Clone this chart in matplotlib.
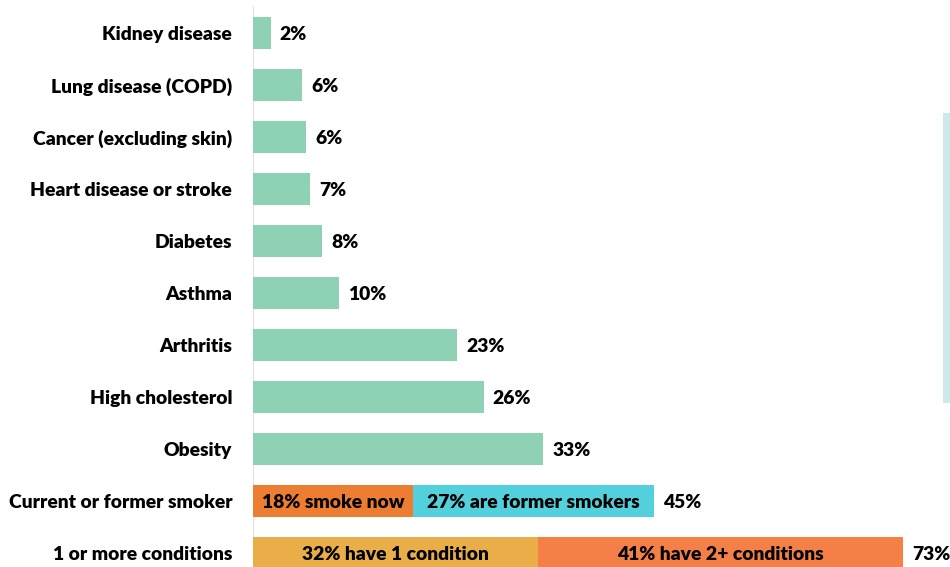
import matplotlib
matplotlib.use("Agg")
import matplotlib.pyplot as plt
from matplotlib.patches import Rectangle

plt.rcParams['font.family'] = ['Lato', 'DejaVu Sans']

categories = ["Kidney disease", "Lung disease (COPD)", "Cancer (excluding skin)",
              "Heart disease or stroke", "Diabetes", "Asthma", "Arthritis",
              "High cholesterol", "Obesity"]
values = [2.0, 5.5, 5.95, 6.45, 7.75, 9.7, 22.9, 25.9, 32.6]
value_labels = ["2%", "6%", "6%", "7%", "8%", "10%", "23%", "26%", "33%"]

smoker_label = "Current or former smoker"
smoker_parts = [18, 27]
smoker_texts = ["18% smoke now", "27% are former smokers"]
smoker_total = "45%"

cond_label = "1 or more conditions"
cond_parts = [32, 41]
cond_texts = ["32% have 1 condition", "41% have 2+ conditions"]
cond_total = "73%"

green = "#8fd1b4"
smoker_colors = ["#ed7d31", "#52d0dc"]
cond_colors = ["#e9ae48", "#f47f47"]

FS = 13.9
FW = "heavy"

W, H = 950, 567
fig = plt.figure(figsize=(W / 100, H / 100), dpi=100)
x0 = 253
ax = fig.add_axes([x0 / W, 0, 1 - x0 / W, 1])
px_per = 8.91
ax.set_xlim(0, (W - x0) / px_per)
y_top, step = 33, 52
ax.set_ylim((H - y_top) / step, (0 - y_top) / step)

bh = 0.62
off = (6.5, -1.2)
ys = list(range(len(categories)))
ax.barh(ys, values, height=bh, color=green)
for y, v, t in zip(ys, values, value_labels):
    ax.annotate(t, (v, y), xytext=off, textcoords="offset points",
                va="center", ha="left", fontsize=FS, fontweight=FW)

ys_s = len(categories)
left = 0
for v, c, t in zip(smoker_parts, smoker_colors, smoker_texts):
    ax.barh(ys_s, v, left=left, height=bh, color=c)
    ax.annotate(t, (left + v / 2, ys_s), xytext=(0, -1.2), textcoords="offset points",
                ha="center", va="center", fontsize=FS, fontweight=FW)
    left += v
ax.annotate(smoker_total, (left, ys_s), xytext=off, textcoords="offset points",
            va="center", ha="left", fontsize=FS, fontweight=FW)

ys_c = len(categories) + 1
left = 0
for v, c, t in zip(cond_parts, cond_colors, cond_texts):
    ax.barh(ys_c, v, left=left, height=bh, color=c)
    ax.annotate(t, (left + v / 2, ys_c), xytext=(0, -1.2), textcoords="offset points",
                ha="center", va="center", fontsize=FS, fontweight=FW)
    left += v
ax.annotate(cond_total, (left, ys_c), xytext=off, textcoords="offset points",
            va="center", ha="left", fontsize=FS, fontweight=FW)

all_labels = categories + [smoker_label, cond_label]
ax.set_yticks(range(len(all_labels)))
ax.set_yticklabels(all_labels, fontsize=FS, fontweight=FW)
ax.tick_params(axis="y", length=0, pad=15)
ax.set_xticks([])
for s in ax.spines.values():
    s.set_visible(False)
ax.axvline(0, ymin=0, ymax=1 - 7 / H, color="#d9d9d9", lw=1.2, zorder=0)

fig.patches.append(Rectangle((943 / W, 1 - 403 / H), 10 / W, 290 / H,
                             transform=fig.transFigure, facecolor="#cde9eb",
                             edgecolor="none"))

fig.savefig("out.png", dpi=100)
